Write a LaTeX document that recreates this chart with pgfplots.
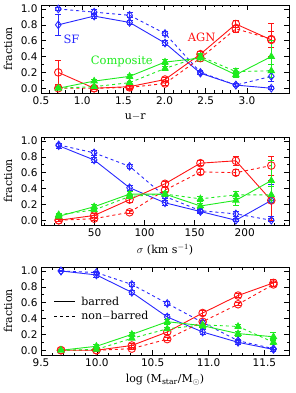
\documentclass[border=0pt]{standalone}
\usepackage{fontspec}
\setmainfont{DejaVu Serif}
\newfontfamily\tickfont{DejaVu Sans}
\usepackage{pgfplots}
\pgfplotsset{compat=1.18}
\definecolor{cblue}{RGB}{40,40,255}
\definecolor{cred}{RGB}{255,20,20}
\definecolor{cgreen}{RGB}{30,235,30}
\pgfplotsset{
  panel/.style={
    width=248pt, height=88pt, scale only axis, anchor=north west,
    ymin=-0.06, ymax=1.05,
    ytick={0,0.2,0.4,0.6,0.8,1.0}, minor y tick num=1,
    xtick pos=both, ytick pos=both, tick align=inside,
    major tick length=5pt, minor tick length=2.5pt,
    axis line style={line width=0.8pt},
    every tick/.style={black, line width=0.6pt},
    yticklabel style={/pgf/number format/.cd, fixed, fixed zerofill, precision=1},
    tick label style={font=\tickfont\fontsize{10.5}{12}\selectfont},
    /pgf/number format/assume math mode=true,
    label style={font=\fontsize{11}{13}\selectfont},
    ylabel={fraction},
    ylabel style={at={(axis description cs:-0.133,0.5)}, anchor=center},
    clip=false,
  },
  ser/.style={line width=0.9pt, mark size=3.8pt, mark options={solid, line width=0.9pt},
    error bars/y dir=both, error bars/y explicit,
    error bars/error bar style={line width=0.9pt, solid},
    error bars/error mark options={line width=0.9pt, mark size=3pt, rotate=90}},
  sf/.style={ser, cblue, mark=diamond},
  agn/.style={ser, cred, mark=o},
  comp/.style={ser, cgreen, mark=triangle*, mark size=3.6pt},
}
\begin{document}
\begin{tikzpicture}
\useasboundingbox (0,0) rectangle (295pt,-393pt);
% ---------------- Panel 1: u-r
\begin{axis}[panel, at={(41pt,-5pt)},
  xmin=0.5, xmax=3.51, xtick={0.5,1.0,1.5,2.0,2.5,3.0}, minor x tick num=4,
  xticklabel style={/pgf/number format/.cd, fixed, fixed zerofill, precision=1},
  xlabel={u$-$r}, xlabel style={at={(axis description cs:0.38,0)}, yshift=-24pt, anchor=center}]
\addplot[sf, solid] table[row sep=\\, y error index=2]{x y e\\ 0.71 0.80 0.13\\ 1.145 0.91 0.03\\ 1.575 0.83 0.03\\ 2.005 0.57 0.03\\ 2.435 0.19 0.02\\ 2.865 0.04 0.02\\ 3.295 0.00 0.02\\};
\addplot[sf, dashed] table[row sep=\\, y error index=2]{x y e\\ 0.71 1.00 0.02\\ 1.145 0.96 0.03\\ 1.575 0.92 0.03\\ 2.005 0.69 0.03\\ 2.435 0.20 0.02\\ 2.865 0.04 0.02\\ 3.295 0.15 0.07\\};
\addplot[agn, solid] table[row sep=\\, y error index=2]{x y e\\ 0.71 0.20 0.15\\ 1.145 0.00 0.02\\ 1.575 0.02 0.02\\ 2.005 0.11 0.03\\ 2.435 0.43 0.04\\ 2.865 0.81 0.04\\ 3.295 0.61 0.21\\};
\addplot[agn, dashed] table[row sep=\\, y error index=2]{x y e\\ 0.71 0.00 0.01\\ 1.145 0.00 0.01\\ 1.575 0.01 0.02\\ 2.005 0.06 0.02\\ 2.435 0.38 0.04\\ 2.865 0.75 0.04\\ 3.295 0.62 0.10\\};
\addplot[comp, solid] table[row sep=\\, y error index=2]{x y e\\ 0.71 0.00 0.02\\ 1.145 0.09 0.02\\ 1.575 0.15 0.03\\ 2.005 0.33 0.03\\ 2.435 0.38 0.04\\ 2.865 0.17 0.04\\ 3.295 0.40 0.20\\};
\addplot[comp, dashed] table[row sep=\\, y error index=2]{x y e\\ 0.71 0.00 0.01\\ 1.145 0.02 0.01\\ 1.575 0.07 0.02\\ 2.005 0.25 0.03\\ 2.435 0.40 0.04\\ 2.865 0.21 0.04\\ 3.295 0.22 0.08\\};
\node[cblue, font=\fontsize{11.5}{14}\selectfont] at (axis cs:0.87,0.62) {SF};
\node[cred, font=\fontsize{11.5}{14}\selectfont] at (axis cs:2.45,0.64) {AGN};
\node[cgreen, font=\fontsize{11.5}{14}\selectfont] at (axis cs:1.48,0.335) {Composite};
\end{axis}
% ---------------- Panel 2: sigma
\begin{axis}[panel, at={(41pt,-137pt)},
  xmin=-3.5, xmax=244.3, xtick={50,100,150,200}, minor xtick={0,10,20,30,40,60,70,80,90,110,120,130,140,160,170,180,190,210,220,230,240},
  xlabel={$\sigma$ (km s$^{-1}$)}, xlabel style={at={(axis description cs:0.5,0)}, yshift=-25pt, anchor=center}]
\addplot[sf, solid] table[row sep=\\, y error index=2]{x y e\\ 14.2 0.94 0.03\\ 49.6 0.76 0.03\\ 85.0 0.41 0.03\\ 120.4 0.22 0.03\\ 155.8 0.11 0.03\\ 191.2 0.00 0.02\\ 226.6 0.25 0.20\\};
\addplot[sf, dashed] table[row sep=\\, y error index=2]{x y e\\ 14.2 0.95 0.02\\ 49.6 0.85 0.03\\ 85.0 0.68 0.03\\ 120.4 0.30 0.03\\ 155.8 0.12 0.02\\ 191.2 0.08 0.03\\ 226.6 0.00 0.02\\};
\addplot[agn, solid] table[row sep=\\, y error index=2]{x y e\\ 14.2 0.00 0.02\\ 49.6 0.06 0.02\\ 85.0 0.26 0.03\\ 120.4 0.46 0.03\\ 155.8 0.72 0.03\\ 191.2 0.75 0.06\\ 226.6 0.25 0.25\\};
\addplot[agn, dashed] table[row sep=\\, y error index=2]{x y e\\ 14.2 0.00 0.01\\ 49.6 0.02 0.02\\ 85.0 0.10 0.02\\ 120.4 0.38 0.03\\ 155.8 0.61 0.03\\ 191.2 0.60 0.04\\ 226.6 0.69 0.12\\};
\addplot[comp, solid] table[row sep=\\, y error index=2]{x y e\\ 14.2 0.05 0.02\\ 49.6 0.17 0.03\\ 85.0 0.33 0.03\\ 120.4 0.33 0.03\\ 155.8 0.18 0.03\\ 191.2 0.25 0.06\\ 226.6 0.50 0.25\\};
\addplot[comp, dashed] table[row sep=\\, y error index=2]{x y e\\ 14.2 0.07 0.01\\ 49.6 0.13 0.02\\ 85.0 0.30 0.03\\ 120.4 0.33 0.03\\ 155.8 0.27 0.03\\ 191.2 0.32 0.04\\ 226.6 0.32 0.10\\};
\end{axis}
% ---------------- Panel 3: stellar mass
\begin{axis}[panel, at={(41pt,-267pt)},
  xmin=9.5, xmax=11.72, xtick={9.5,10.0,10.5,11.0,11.5}, minor x tick num=4,
  xticklabel style={/pgf/number format/.cd, fixed, fixed zerofill, precision=1},
  xlabel={log (M$_{\mathrm{star}}$/M$_{\odot}$)}, xlabel style={at={(axis description cs:0.5,0)}, yshift=-25pt, anchor=center}]
\addplot[sf, solid] table[row sep=\\, y error index=2]{x y e\\ 9.679 1.00 0.01\\ 9.996 0.95 0.03\\ 10.313 0.73 0.03\\ 10.630 0.42 0.03\\ 10.947 0.23 0.03\\ 11.264 0.10 0.03\\ 11.581 0.01 0.02\\};
\addplot[sf, dashed] table[row sep=\\, y error index=2]{x y e\\ 9.679 1.00 0.01\\ 9.996 0.98 0.02\\ 10.313 0.83 0.02\\ 10.630 0.59 0.02\\ 10.947 0.35 0.02\\ 11.264 0.12 0.02\\ 11.581 0.02 0.01\\};
\addplot[agn, solid] table[row sep=\\, y error index=2]{x y e\\ 9.679 0.00 0.01\\ 9.996 0.00 0.01\\ 10.313 0.06 0.02\\ 10.630 0.23 0.03\\ 10.947 0.47 0.03\\ 11.264 0.69 0.03\\ 11.581 0.85 0.04\\};
\addplot[agn, dashed] table[row sep=\\, y error index=2]{x y e\\ 9.679 0.00 0.01\\ 9.996 0.00 0.01\\ 10.313 0.02 0.01\\ 10.630 0.14 0.02\\ 10.947 0.36 0.02\\ 11.264 0.58 0.02\\ 11.581 0.83 0.03\\};
\addplot[comp, solid] table[row sep=\\, y error index=2]{x y e\\ 9.679 0.00 0.01\\ 9.996 0.05 0.02\\ 10.313 0.20 0.03\\ 10.630 0.36 0.03\\ 10.947 0.31 0.03\\ 11.264 0.21 0.03\\ 11.581 0.17 0.05\\};
\addplot[comp, dashed] table[row sep=\\, y error index=2]{x y e\\ 9.679 0.00 0.01\\ 9.996 0.01 0.01\\ 10.313 0.15 0.02\\ 10.630 0.27 0.02\\ 10.947 0.32 0.02\\ 11.264 0.30 0.02\\ 11.581 0.10 0.03\\};
\draw[black, line width=0.9pt] (axis cs:9.62,0.61) -- (axis cs:9.80,0.61);
\node[anchor=west, font=\fontsize{11}{13}\selectfont] at (axis cs:9.83,0.62) {barred};
\draw[black, line width=0.9pt, dashed] (axis cs:9.62,0.42) -- (axis cs:9.80,0.42);
\node[anchor=west, font=\fontsize{11}{13}\selectfont] at (axis cs:9.83,0.43) {non$-$barred};
\end{axis}
\end{tikzpicture}
\end{document}
